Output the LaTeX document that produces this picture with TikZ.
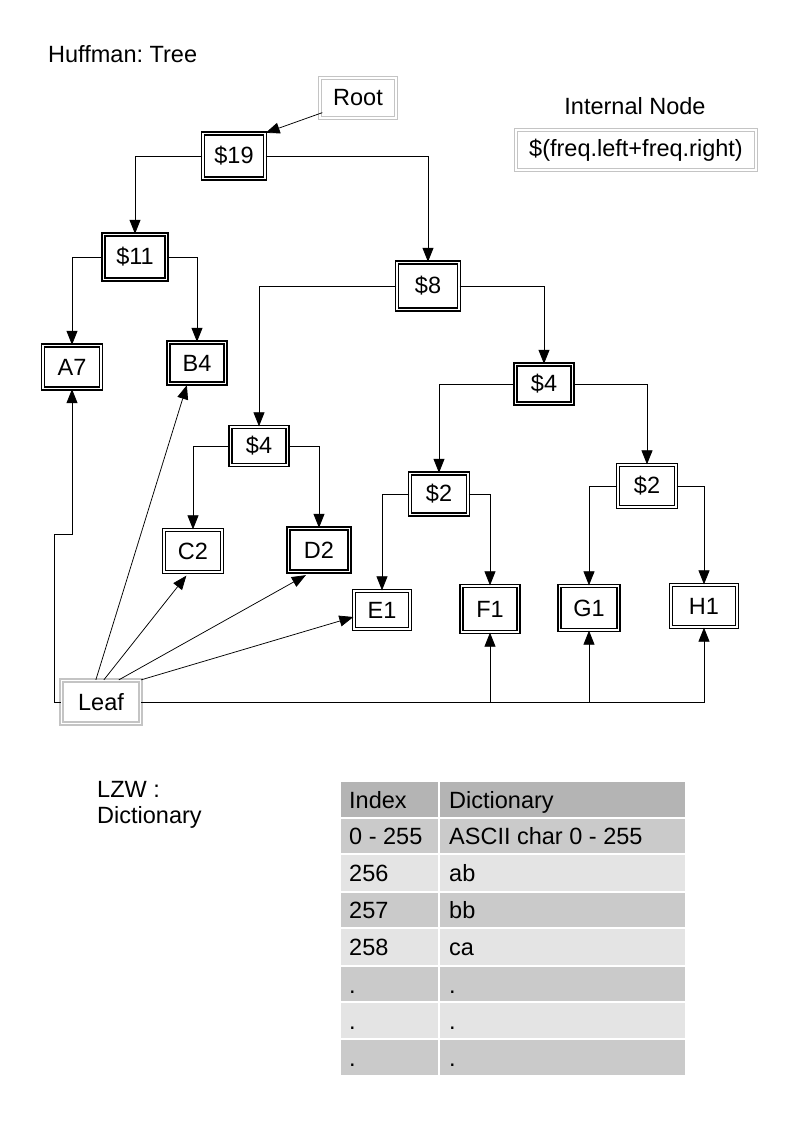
\documentclass[tikz,border=0pt]{standalone}
\usepackage{fontspec}
\setmainfont{Liberation Sans}
\usetikzlibrary{arrows.meta,calc}
\frenchspacing
\newcommand\myfs{\fontsize{23.5}{28}\selectfont}
\definecolor{hdrgray}{HTML}{B4B4B4}
\definecolor{darkrow}{HTML}{CACACA}
\definecolor{lightrow}{HTML}{E4E4E4}
\definecolor{framegray}{HTML}{C4C4C4}
\tikzset{
  bx/.style={draw=black, line width=1.3pt, double=white, double distance=1.7pt,
    rectangle, inner sep=0pt, font=\myfs},
  gbx/.style={draw=framegray, line width=1.3pt, double=white, double distance=1.5pt,
    rectangle, inner sep=0pt, font=\myfs},
  arr/.style={draw=black, line width=0.75pt, -{Triangle[length=14pt,width=11pt]}},
  lbl/.style={inner sep=0pt, font=\myfs},
  cell/.style={inner sep=0pt, anchor=base west, font=\myfs},
}
\begin{document}
\begin{tikzpicture}[x=1pt,y=-1pt]
\useasboundingbox (0,0) rectangle (794,1123);

% titles
\node[lbl, anchor=base west] (title) at (48,63) {Huffman: Tree};
\node[lbl, anchor=base] (intl) at (635,115) {Internal Node};
\node[gbx, minimum width=240, minimum height=40] (formula) at (636,150) {\$(freq.left+freq.right)};

% tree nodes
\node[gbx, minimum width=76, minimum height=40] (root) at (358,98) {Root};
\node[bx, minimum width=62, minimum height=45] (p19) at (234,156) {\$19};
\node[bx, minimum width=63, minimum height=45] (p11) at (135,257) {\$11};
\node[bx, minimum width=62, minimum height=47] (p8) at (428,286) {\$8};
\node[bx, minimum width=58, minimum height=43] (a7) at (72,367) {A7};
\node[bx, minimum width=57, minimum height=41] (b4) at (197,363) {B4};
\node[bx, minimum width=57, minimum height=38] (p4a) at (259,446) {\$4};
\node[bx, minimum width=57, minimum height=39] (p4b) at (544,384) {\$4};
\node[bx, minimum width=58, minimum height=42] (c2) at (193,551) {C2};
\node[bx, minimum width=61, minimum height=43] (d2) at (319,550) {D2};
\node[bx, minimum width=58, minimum height=41] (p2a) at (439,494) {\$2};
\node[bx, minimum width=58, minimum height=42] (p2b) at (647,486) {\$2};
\node[bx, minimum width=56, minimum height=38] (e1) at (382,610) {E1};
\node[bx, minimum width=57, minimum height=46] (f1) at (490,609) {F1};
\node[bx, minimum width=59, minimum height=44] (g1) at (589,608) {G1};
\node[bx, minimum width=66, minimum height=42] (h1) at (704,606) {H1};
\node[gbx, minimum width=79, minimum height=43] (leaf) at (101,702) {Leaf};

% tree connectors
\draw[arr] ([xshift=3pt,yshift=6pt]root.south west) -- (p19.north east);
\draw[arr] (p19.west) -| (p11.north);
\draw[arr] (p19.east) -| (p8.north);
\draw[arr] (p11.west) -| (a7.north);
\draw[arr] (p11.east) -| (b4.north);
\draw[arr] (p8.west) -| (p4a.north);
\draw[arr] (p8.east) -| (p4b.north);
\draw[arr] (p4a.west) -| (c2.north);
\draw[arr] (p4a.east) -| (d2.north);
\draw[arr] (p4b.west) -| (p2a.north);
\draw[arr] (p4b.east) -| (p2b.north);
\draw[arr] (p2a.west) -| (e1.north);
\draw[arr] (p2a.east) -| (f1.north);
\draw[arr] (p2b.west) -| (g1.north);
\draw[arr] (p2b.east) -| (h1.north);

% leaf connectors
\draw[arr] (leaf.west) -- ++(-6,0) -- ++(0,-168) -| (a7.south);
\draw[arr] ([xshift=35pt]leaf.north west) -- ([xshift=19pt,yshift=-1pt]b4.south west);
\draw[arr] ([xshift=43pt]leaf.north west) -- ([xshift=23pt,yshift=-3pt]c2.south west);
\draw[arr] ([xshift=58pt]leaf.north west) -- ([xshift=18pt,yshift=-3pt]d2.south west);
\draw[arr] (leaf.north east) -- ([yshift=-7pt]e1.west);
\draw[arr] (leaf.east) -| (h1.south);
\draw[arr] (leaf.east -| f1.south) -- (f1.south);
\draw[arr] (leaf.east -| g1.south) -- (g1.south);

% LZW label
\node[lbl, anchor=base west] (lzw) at (97,797) {LZW :};
\node[lbl, anchor=base west] (lzwd) at (97,823) {Dictionary};

% table
\fill[hdrgray]  (341,782)  rectangle (685,818);
\fill[darkrow]  (341,818)  rectangle (685,854);
\fill[lightrow] (341,854)  rectangle (685,892);
\fill[darkrow]  (341,892)  rectangle (685,928);
\fill[lightrow] (341,928)  rectangle (685,966);
\fill[darkrow]  (341,966)  rectangle (685,1002);
\fill[lightrow] (341,1002) rectangle (685,1039);
\fill[darkrow]  (341,1039) rectangle (685,1075);
\foreach \yy in {818,854,892,928,966,1002,1039}
  \draw[white, line width=1.5pt] (341,\yy) -- (685,\yy);
\draw[white, line width=1.5pt] (439,782) -- (439,1075);

\node[cell] (h1c) at (349,808) {Index};
\node[cell] (h2c) at (449,808) {Dictionary};
\node[cell] (r1a) at (349,844) {0 - 255};
\node[cell] (r1b) at (449,844) {ASCII char 0 - 255};
\node[cell] (r2a) at (349,881) {256};
\node[cell] (r2b) at (449,881) {ab};
\node[cell] (r3a) at (349,918) {257};
\node[cell] (r3b) at (449,918) {bb};
\node[cell] (r4a) at (349,955) {258};
\node[cell] (r4b) at (449,955) {ca};
\node[cell] (r5a) at (349,993) {.};
\node[cell] (r5b) at (449,993) {.};
\node[cell] (r6a) at (349,1029) {.};
\node[cell] (r6b) at (449,1029) {.};
\node[cell] (r7a) at (349,1066) {.};
\node[cell] (r7b) at (449,1066) {.};
\end{tikzpicture}
\end{document}
